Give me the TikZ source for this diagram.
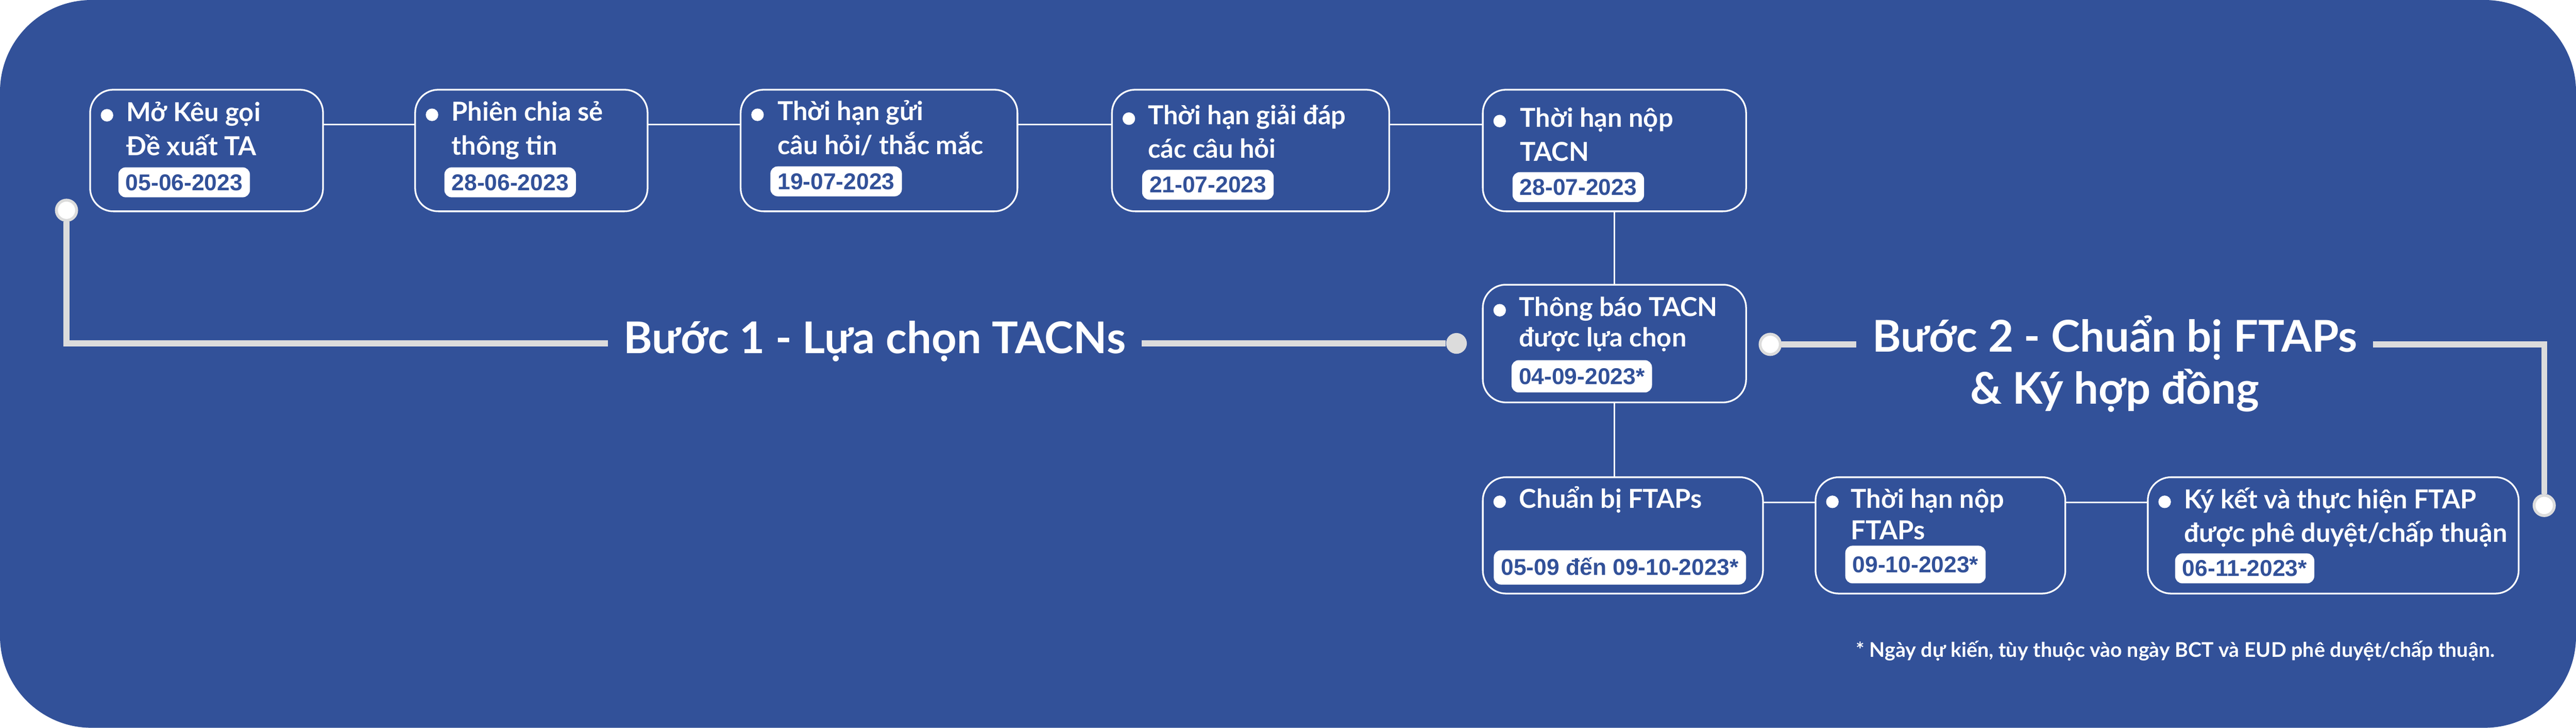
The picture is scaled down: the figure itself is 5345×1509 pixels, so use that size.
\documentclass[tikz,border=0pt]{standalone}
\usepackage{fontspec}
\setmainfont{Lato}
\newfontfamily\datefont{Liberation Sans}
\usetikzlibrary{positioning, calc}
\definecolor{bgblue}{RGB}{50,81,153}
\definecolor{linegray}{RGB}{220,220,220}
\tikzstyle{stepbox} = [draw=white, line width=0.035cm, rounded corners=0.48cm, inner sep=0pt, outer sep=0pt, minimum height=2.52cm]
\tikzstyle{steptext} = [text=white, align=left, inner sep=0pt, anchor=base west, font=\fontsize{15.4pt}{19.9pt}\selectfont\bfseries]
\tikzstyle{datepill} = [fill=white, rounded corners=0.15cm, text=bgblue, anchor=west, inner xsep=0.15cm, inner ysep=0pt, minimum height=0.62cm, text height=0.33cm, text depth=0pt, font=\datefont\fontsize{13.5pt}{15pt}\selectfont\bfseries]
\tikzstyle{bulletdot} = [circle, fill=white, minimum size=0.26cm, inner sep=0pt]
\tikzstyle{link} = [draw=white, line width=0.035cm]
\tikzstyle{bracket} = [draw=linegray, line width=0.12cm]
\tikzstyle{knob} = [circle, draw=linegray, line width=0.06cm, fill=white, minimum size=0.42cm, inner sep=0pt]
\tikzstyle{heading} = [text=white, align=center, inner xsep=0.32cm, inner ysep=0pt, anchor=base, font=\fontsize{25.8pt}{30.7pt}\selectfont\bfseries]

\begin{document}
\begin{tikzpicture}[x=0.01cm, y=-0.01cm]
\useasboundingbox (0,0) rectangle (5345,1509);
\fill [bgblue, rounded corners=1.9cm] (0,0) rectangle (5345,1509);

% buoc 1
\node (b1) [stepbox, minimum width=4.83cm, anchor=north west] at (187,186) {};
\node (b2) [stepbox, minimum width=4.82cm, right=1.91cm of b1] {};
\node (b3) [stepbox, minimum width=5.74cm, right=1.93cm of b2] {};
\node (b4) [stepbox, minimum width=5.75cm, right=1.96cm of b3] {};
\node (b5) [stepbox, minimum width=5.46cm, right=1.94cm of b4] {};
\node (b6) [stepbox, minimum width=5.46cm, minimum height=2.44cm, below=1.52cm of b5] {};
% buoc 2
\node (b7) [stepbox, minimum width=5.81cm, minimum height=2.41cm, below=1.55cm of b6.south west, anchor=north west] {};
\node (b8) [stepbox, minimum width=5.18cm, minimum height=2.41cm, right=1.09cm of b7] {};
\node (b9) [stepbox, minimum width=7.69cm, minimum height=2.41cm, right=1.71cm of b8] {};

% titles, placed by their last line
\node (t1) [steptext] at ($(b1.north west)+(75,136)$) {Mở Kêu gọi\\Đề xuất TA};
\node (t2) [steptext] at ($(b2.north west)+(75,135)$) {Phiên chia sẻ\\thông tin};
\node (t3) [steptext] at ($(b3.north west)+(76,134)$) {Thời hạn gửi\\câu hỏi/ thắc mắc};
\node (t4) [steptext] at ($(b4.north west)+(74,142)$) {Thời hạn giải đáp\\các câu hỏi};
\node (t5) [steptext] at ($(b5.north west)+(77,148)$) {Thời hạn nộp\\TACN};
\node (t6) [steptext] at ($(b6.north west)+(75,129)$) {Thông báo TACN\\[-0.07cm]được lựa chọn};
\node (t7) [steptext] at ($(b7.north west)+(75,64)$) {Chuẩn bị FTAPs};
\node (t8) [steptext] at ($(b8.north west)+(73,129)$) {Thời hạn nộp\\[-0.05cm]FTAPs};
\node (t9) [steptext] at ($(b9.north west)+(75,135)$) {Ký kết và thực hiện FTAP\\được phê duyệt/chấp thuận};
\foreach \i/\y in {1/53, 2/52, 3/52, 4/60, 5/65, 6/53, 7/51, 8/51, 9/51}
  \node [bulletdot] at ($(b\i.north west)+(35,\y)$) {};

\node (p1) [datepill] at ($(b1.north west)+(58,192)$) {05-06-2023};
\node (p2) [datepill] at ($(b2.north west)+(60,192)$) {28-06-2023};
\node (p3) [datepill] at ($(b3.north west)+(61,190)$) {19-07-2023};
\node (p4) [datepill] at ($(b4.north west)+(62,197)$) {21-07-2023};
\node (p5) [datepill] at ($(b5.north west)+(61,202)$) {28-07-2023};
\node (p6) [datepill, minimum height=0.67cm] at ($(b6.north west)+(59,190)$) {04-09-2023*};
\node (p7) [datepill, minimum height=0.71cm] at ($(b7.north west)+(22,187)$) {05-09 đến 09-10-2023*};
\node (p8) [datepill, minimum height=0.78cm] at ($(b8.north west)+(61,181)$) {09-10-2023*};
\node (p9) [datepill] at ($(b9.north west)+(56,189)$) {06-11-2023*};

\foreach \a/\b in {b1/b2, b2/b3, b3/b4, b4/b5}
  \draw [link] ([yshift=-0.72cm]\a.north east) -- ([yshift=-0.72cm]\b.north west);
\draw [link] (b5.south) -- (b6.north);
\draw [link] (b6.south) -- (b6.south |- b7.north);
\draw [link] ([yshift=-0.52cm]b7.north east) -- ([yshift=-0.52cm]b8.north west);
\draw [link] ([yshift=-0.52cm]b8.north east) -- ([yshift=-0.52cm]b9.north west);

% brackets
\node (k1) [knob] at (138,436) {};
\node (e1) [circle, fill=linegray, minimum size=0.43cm, inner sep=0pt] at (3022,712) {};
\node (buoc1) [heading] at (1815,733) {Bước 1 - Lựa chọn TACNs};
\draw [bracket] (k1) |- (buoc1.west |- e1);
\draw [bracket] (buoc1.east |- e1) -- (e1);
\node (k2) [knob] at (3673,714) {};
\node (k3) [knob] at (5279,1048) {};
\node (buoc2) [heading] at (4388,838) {Bước 2 - Chuẩn bị FTAPs\\\& Ký hợp đồng};
\draw [bracket] (k2) -- (buoc2.west |- k2);
\draw [bracket] (buoc2.east |- k2) -| (k3);

\node (note) [text=white, anchor=base east, inner sep=0pt, font=\fontsize{11.95pt}{14pt}\selectfont\bfseries] at (5177,1362) {* Ngày dự kiến, tùy thuộc vào ngày BCT và EUD phê duyệt/chấp thuận.};
\end{tikzpicture}
\end{document}
